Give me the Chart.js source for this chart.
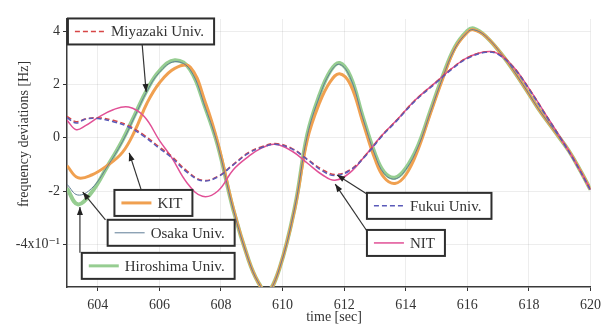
<!DOCTYPE html>
<html>
<head>
<meta charset="utf-8">
<script src="https://cdn.jsdelivr.net/npm/chart.js@4.4.1/dist/chart.umd.min.js"></script>
<style>
  html, body { margin: 0; padding: 0; background: #fff; }
</style>
</head>
<body>
<canvas id="chart" width="607" height="324"></canvas>
<script>
// time points (sec) for the fast-swinging group and the slow group
const timeA = [603, 603.35, 603.8, 604.3, 604.8, 605.2, 605.6, 606.0, 606.5, 607.0, 607.5, 607.9,
  608.4, 608.9, 609.2, 609.5, 609.9, 610.4, 610.8, 611.2, 611.55, 611.85, 612.2, 612.6, 613.0,
  613.3, 613.65, 614.0, 614.4, 614.8, 615.2, 615.6, 616.0, 616.2, 616.6, 617.2, 617.8, 618.3,
  618.8, 619.3, 619.7, 620];
const timeB = [603, 603.3, 603.6, 604.0, 604.5, 605.0, 605.5, 606.0, 606.4, 606.9, 607.4, 607.9,
  608.4, 608.9, 609.3, 609.75, 610.3, 610.8, 611.3, 611.7, 612.2, 612.7, 613.2, 613.7, 614.3,
  615.0, 615.5, 616.0, 616.6, 617.0, 617.5, 618.0, 618.5, 619.0, 619.5, 620];

// frequency deviations, x10^-1 Hz
const hiroshima = [-1.9, -2.5, -2.05, -1.1, -0.1, 0.85, 1.8, 2.5, 2.9, 2.55, 1.1, -0.3,
  -2.7, -4.6, -5.4, -5.8, -4.9, -2.6, 0.1, 1.6, 2.5, 2.8, 2.3, 0.8, -0.6,
  -1.3, -1.5, -1.15, -0.3, 1.0, 2.3, 3.4, 4.0, 4.1, 3.8, 3.0, 2.0, 1.1,
  0.3, -0.5, -1.3, -1.95];
const osaka = [-1.75, -2.15, -1.9, -1.1, -0.15, 0.8, 1.75, 2.45, 2.85, 2.55, 1.1, -0.3,
  -2.7, -4.6, -5.4, -5.8, -4.9, -2.6, 0.05, 1.55, 2.45, 2.75, 2.25, 0.75, -0.65,
  -1.35, -1.55, -1.2, -0.35, 0.95, 2.25, 3.35, 3.95, 4.05, 3.8, 3.0, 2.0, 1.1,
  0.3, -0.5, -1.3, -1.95];
const kit = [-1.05, -1.5, -1.4, -1.05, -0.55, 0.25, 1.3, 2.05, 2.6, 2.65, 1.3, -0.2,
  -2.65, -4.6, -5.4, -5.8, -4.9, -2.65, -0.1, 1.3, 2.1, 2.4, 2.0, 0.6, -0.8,
  -1.5, -1.72, -1.4, -0.45, 0.9, 2.2, 3.35, 3.95, 4.05, 3.8, 3.0, 2.0, 1.1,
  0.3, -0.5, -1.3, -1.95];
const nit = [0.65, 0.3, 0.45, 0.75, 1.05, 1.15, 0.8, -0.1, -0.75, -1.7, -2.2, -2.0,
  -1.2, -0.7, -0.4, -0.25, -0.5, -0.95, -1.4, -1.6, -1.3, -0.65, 0.05, 0.65, 1.4,
  2.1, 2.6, 3.0, 3.22, 3.15, 2.65, 1.85, 0.95, 0.05, -0.9, -1.95];
const miyazaki = [0.8, 0.6, 0.7, 0.75, 0.65, 0.45, 0.1, -0.35, -0.7, -1.25, -1.6, -1.45,
  -1.0, -0.55, -0.35, -0.22, -0.4, -0.8, -1.2, -1.38, -1.2, -0.65, 0.05, 0.65, 1.4,
  2.1, 2.6, 3.0, 3.22, 3.15, 2.65, 1.85, 0.95, 0.05, -0.9, -1.95];
const fukui = [0.75, 0.55, 0.7, 0.72, 0.6, 0.4, 0.05, -0.4, -0.75, -1.3, -1.62, -1.47,
  -1.02, -0.58, -0.38, -0.25, -0.42, -0.82, -1.25, -1.42, -1.22, -0.68, 0.02, 0.62, 1.37,
  2.07, 2.57, 2.97, 3.2, 3.12, 2.62, 1.82, 0.92, 0.02, -0.92, -1.97];

const xTicks = [604, 606, 608, 610, 612, 614, 616, 618, 620];
const yTicks = [-4, -2, 0, 2, 4];

const serif = '"Liberation Serif", "DejaVu Serif", serif';

function pts(times, vals) {
  return times.map((t, i) => ({ x: t, y: vals[i] }));
}

const series = {
  hiroshima: { label: "Hiroshima Univ.", data: pts(timeA, hiroshima), borderColor: "rgb(150,205,145)", borderWidth: 4, order: 6 },
  kit:       { label: "KIT", data: pts(timeA, kit), borderColor: "rgb(240,160,80)", borderWidth: 3, order: 5 },
  osaka:     { label: "Osaka Univ.", data: pts(timeA, osaka), borderColor: "rgb(95,125,150)", borderWidth: 1, order: 4 },
  nit:       { label: "NIT", data: pts(timeB, nit), borderColor: "rgb(225,80,150)", borderWidth: 1.5, order: 3 },
  miyazaki:  { label: "Miyazaki Univ.", data: pts(timeB, miyazaki), borderColor: "rgb(215,70,70)", borderWidth: 1.5, borderDash: [5, 3], order: 2 },
  fukui:     { label: "Fukui Univ.", data: pts(timeB, fukui), borderColor: "rgb(90,90,185)", borderWidth: 1.5, borderDash: [5, 3], order: 1 },
};

// label boxes: top-left corner, arrow start and arrow tip, all in data units
const notes = [
  { key: "miyazaki",  at: [603.03, 4.47],  from: [605.44, 3.51],  to: [605.57, 1.71] },
  { key: "kit",       at: [604.54, -1.96], from: [605.41, -1.96], to: [605.02, -0.57] },
  { key: "osaka",     at: [604.32, -3.08], from: [604.25, -3.08], to: [603.51, -2.04] },
  { key: "hiroshima", at: [603.48, -4.32], from: [603.42, -4.32], to: [603.42, -2.6] },
  { key: "fukui",     at: [612.74, -2.07], from: [612.74, -2.11], to: [611.77, -1.40] },
  { key: "nit",       at: [612.74, -3.46], from: [612.74, -3.5],  to: [611.71, -1.74] },
];

const labelBoxes = {
  id: "labelBoxes",
  afterDatasetsDraw(chart) {
    const ctx = chart.ctx;
    const xs = chart.scales.x, ys = chart.scales.y;
    ctx.save();
    // arrows
    notes.forEach((n) => {
      const x1 = xs.getPixelForValue(n.from[0]), y1 = ys.getPixelForValue(n.from[1]);
      const x2 = xs.getPixelForValue(n.to[0]), y2 = ys.getPixelForValue(n.to[1]);
      ctx.strokeStyle = "#333";
      ctx.lineWidth = 1.2;
      ctx.setLineDash([]);
      ctx.beginPath();
      ctx.moveTo(x1, y1);
      ctx.lineTo(x2, y2);
      ctx.stroke();
      const a = Math.atan2(y2 - y1, x2 - x1);
      ctx.fillStyle = "#222";
      ctx.beginPath();
      ctx.moveTo(x2, y2);
      ctx.lineTo(x2 - 8 * Math.cos(a) + 3 * Math.sin(a), y2 - 8 * Math.sin(a) - 3 * Math.cos(a));
      ctx.lineTo(x2 - 8 * Math.cos(a) - 3 * Math.sin(a), y2 - 8 * Math.sin(a) + 3 * Math.cos(a));
      ctx.closePath();
      ctx.fill();
    });
    // boxes
    ctx.font = "15px " + serif;
    ctx.textBaseline = "middle";
    notes.forEach((n) => {
      const s = series[n.key];
      const x = xs.getPixelForValue(n.at[0]), y = ys.getPixelForValue(n.at[1]);
      const w = 43 + ctx.measureText(s.label).width + 10, h = 26;
      ctx.fillStyle = "#fff";
      ctx.fillRect(x, y, w, h);
      ctx.strokeStyle = "#2e2e2e";
      ctx.lineWidth = 2;
      ctx.setLineDash([]);
      ctx.strokeRect(x, y, w, h);
      ctx.strokeStyle = s.borderColor;
      ctx.lineWidth = Math.min(s.borderWidth, 3);
      ctx.setLineDash(s.borderDash || []);
      ctx.beginPath();
      ctx.moveTo(x + 7, y + h / 2);
      ctx.lineTo(x + 37, y + h / 2);
      ctx.stroke();
      ctx.fillStyle = "#333";
      ctx.fillText(s.label, x + 43, y + h / 2 + 1);
    });
    // axis titles
    ctx.fillStyle = "#333";
    ctx.font = "14px " + serif;
    ctx.textAlign = "center";
    ctx.fillText("time [sec]", 334, 317);
    ctx.translate(24, 134);
    ctx.rotate(-Math.PI / 2);
    ctx.fillText("frequency deviations [Hz]", 0, 0);
    ctx.restore();
  },
};

new Chart(document.getElementById("chart").getContext("2d"), {
  type: "line",
  data: {
    datasets: Object.values(series).map((s) => ({
      ...s,
      fill: false,
      pointRadius: 0,
      tension: 0.4,
    })),
  },
  options: {
    responsive: false,
    animation: false,
    layout: { padding: { top: 19, right: 0, left: 0, bottom: 0 } },
    plugins: { legend: { display: false }, tooltip: { enabled: false } },
    scales: {
      x: {
        type: "linear",
        min: 603,
        max: 620,
        afterBuildTicks: (scale) => { scale.ticks = xTicks.map((v) => ({ value: v })); },
        afterFit: (scale) => { scale.height = 37; },
        grid: { color: "rgba(0,0,0,0.07)", tickColor: "#333", tickLength: 4 },
        border: { display: true, color: "#3a3a3a", width: 1.5 },
        ticks: { font: { family: serif, size: 14 }, color: "#333", padding: 6, maxRotation: 0 },
      },
      y: {
        min: -5.6,
        max: 4.45,
        afterBuildTicks: (scale) => { scale.ticks = yTicks.map((v) => ({ value: v })); },
        afterFit: (scale) => { scale.width = 67; },
        grid: { color: "rgba(0,0,0,0.07)", tickColor: "#333", tickLength: 4 },
        border: { display: true, color: "#3a3a3a", width: 1.5 },
        ticks: {
          font: { family: serif, size: 14 },
          color: "#333",
          padding: 3,
          callback: (v) => (v === -4 ? "-4x10⁻¹" : String(v)),
        },
      },
    },
  },
  plugins: [labelBoxes],
});
</script>
</body>
</html>
